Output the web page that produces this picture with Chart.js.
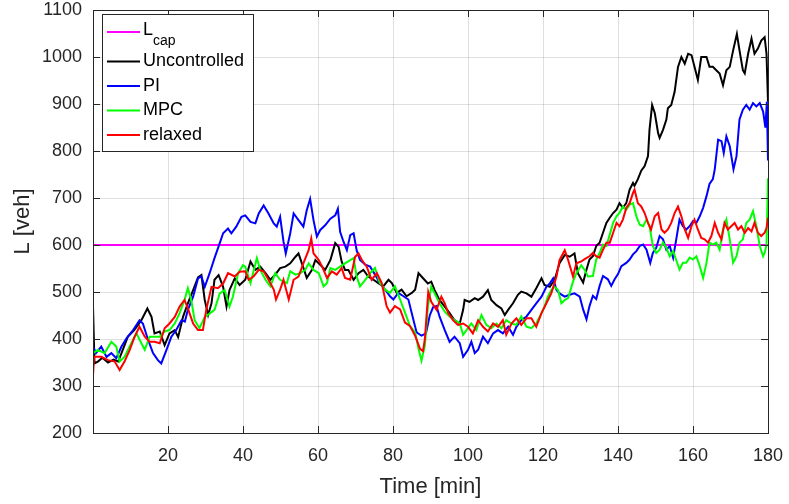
<!DOCTYPE html>
<html>
<head>
<meta charset="utf-8">
<script src="https://cdn.jsdelivr.net/npm/chart.js@4.4.1/dist/chart.umd.min.js"></script>
<style>
  body { margin: 0; background: #fff; }
  #wrap { width: 789px; height: 504px; }
</style>
</head>
<body>
<div id="wrap"><canvas id="chart"></canvas></div>
<script>
// queue length over time for the different ramp metering strategies
const seriesNames = ['L_cap', 'Uncontrolled', 'PI', 'MPC', 'relaxed'];
const seriesColors = ['#ff00ff', '#000000', '#0000ff', '#00ff00', '#ff0000'];

const timeCap = [0, 180];
const valCap = [600, 600];

const timeUnc = [
  0, 0.4, 1.3, 2.5, 4, 5.5, 6.7, 7.6, 9.3, 11,
  12.9, 14.5, 15.6, 16.4, 17.8, 19.1, 20.4, 21.8, 22.7, 24,
  25.3, 26.7, 28, 28.9, 29.8, 30.7, 31.6, 32.4, 33.5, 34.7,
  35.6, 36.4, 37.8, 39.1, 40.6, 42, 43.3, 44.6, 46, 47.3,
  48.6, 49.9, 51.3, 52.6, 54, 54.8, 55.7, 57, 58.4, 59.3,
  60.6, 61.9, 63.3, 64.6, 65.5, 66.3, 67.2, 68.1, 69.5, 70.8,
  72.1, 73.4, 74.8, 76.1, 77.4, 78.8, 79.7, 81, 82.3, 83.6,
  85, 85.9, 86.8, 87.6, 89.3, 90.2, 91.1, 92.4, 93.8, 95.1,
  96.4, 97.8, 98.7, 99.1, 100.4, 101.8, 102.7, 104, 105.3, 106.2,
  107.6, 108.9, 109.8, 110.7, 112, 113.3, 114.2, 115.6, 116.9, 118.2,
  119.6, 120.4, 121.8, 123.1, 124.4, 125.8, 127.1, 128.4, 129.3, 130.7,
  131.6, 132.4, 133.3, 134.2, 135.1, 136, 136.9, 137.8, 138.7, 139.6,
  140.4, 141.3, 142.2, 143.1, 144, 144.4, 145.3, 146.2, 147.1, 148,
  148.4, 149.1, 149.8, 150.7, 151.1, 152, 152.9, 153.3, 154.2, 155.1,
  156, 156.9, 157.8, 158.7, 159.6, 160.4, 161.3, 162.2, 163.6, 164.4,
  165.3, 166.2, 167.1, 168, 168.9, 169.8, 170.7, 171.7, 172.4, 173.3,
  173.8, 174.7, 175.6, 176.4, 177.3, 178.2, 179.1, 179.6, 180
];
const valUnc = [
  469, 348, 352, 360, 350, 356, 352, 370, 405, 419,
  440, 465, 447, 412, 416, 387, 412, 419, 404, 447,
  476, 504, 531, 536, 483, 451, 476, 526, 536, 511,
  469, 504, 529, 515, 526, 565, 547, 554, 540, 526,
  537, 551, 554, 561, 575, 582, 561, 530, 547, 568,
  558, 547, 568, 604, 596, 565, 547, 547, 526, 540,
  547, 533, 526, 519, 512, 526, 519, 498, 505, 491,
  498, 505, 540, 533, 518, 522, 504, 483, 469, 455,
  440, 433, 462, 483, 479, 487, 483, 490, 504, 483,
  472, 465, 451, 462, 476, 494, 501, 497, 490, 508,
  529, 515, 511, 526, 561, 579, 575, 582, 540, 520,
  548, 569, 576, 598, 605, 626, 647, 658, 668, 675,
  689, 679, 689, 718, 732, 726, 740, 758, 768, 789,
  845, 898, 881, 838, 828, 845, 867, 891, 898, 926,
  979, 1000, 986, 1007, 1004, 979, 951, 1000, 1000, 979,
  979, 972, 965, 940, 972, 979, 1014, 1049, 1014, 972,
  965, 1007, 1039, 1007, 1018, 1035, 1042, 1007, 905
];

const timePI = [
  0, 0.8, 2.2, 3.6, 4.9, 6.2, 7.6, 8.9, 10.7, 12.4,
  13.3, 14.7, 16, 17.3, 18.2, 19.6, 20.9, 22.2, 23.6, 24.5,
  25.3, 26.7, 28, 28.9, 29.8, 31.1, 32.4, 33.8, 34.7, 36,
  36.9, 38.2, 39.6, 40.6, 42, 43.3, 44.2, 45.5, 46.8, 48.2,
  49, 49.9, 50.8, 51.4, 52.6, 53.5, 54.8, 56.1, 57, 57.9,
  58.8, 59.7, 60.6, 61.9, 63.3, 64.6, 65.3, 65.9, 66.8, 67.7,
  68.6, 69.5, 70.3, 71.2, 72.6, 73.9, 75.2, 76.5, 77.9, 79.2,
  80.1, 81.4, 82.8, 84.1, 85.4, 86.3, 87.6, 88.8, 89.8, 90.7,
  91.6, 92.4, 93.8, 95.1, 96.4, 97.8, 98.7, 100, 100.9, 101.8,
  102.7, 104, 105.3, 106.7, 108, 109.3, 110.7, 112, 112.9, 114.2,
  115.6, 116.9, 118.2, 119.6, 120.9, 121.8, 122.7, 123.6, 124.4, 125.8,
  127.1, 128.4, 129.8, 130.7, 131.6, 132.4, 133.3, 134.2, 135.1, 136,
  137.3, 138.2, 139.1, 140, 140.9, 142.2, 143.1, 144, 144.9, 145.8,
  146.7, 147.6, 148.6, 149.3, 150.2, 151.1, 152, 152.9, 153.8, 154.7,
  155.6, 156.4, 157.3, 158.2, 159.1, 160, 160.9, 161.8, 162.7, 163.6,
  164.4, 165.3, 165.8, 166.7, 167.6, 168.2, 168.9, 169.8, 170.8, 171.6,
  172.4, 173.3, 174.2, 175.1, 176, 176.9, 177.8, 178.7, 179.3, 179.7,
  180
];
const valPI = [
  384, 370, 384, 362, 370, 359, 384, 401, 419, 440,
  433, 398, 370, 355, 348, 377, 405, 419, 440, 437,
  462, 490, 529, 533, 511, 540, 572, 604, 625, 635,
  625, 639, 660, 663, 649, 646, 667, 684, 667, 646,
  639, 660, 607, 582, 625, 667, 653, 639, 674, 698,
  653, 618, 632, 642, 656, 663, 677, 628, 607, 589,
  621, 625, 589, 568, 558, 554, 537, 519, 505, 491,
  484, 498, 491, 484, 442, 414, 407, 412, 450, 468,
  470, 448, 419, 394, 405, 391, 362, 377, 394, 370,
  377, 405, 391, 412, 419, 412, 426, 409, 426, 440,
  448, 462, 476, 490, 511, 518, 529, 504, 497, 490,
  494, 497, 490, 463, 442, 470, 492, 485, 513, 534,
  527, 513, 527, 538, 555, 562, 569, 580, 587, 598,
  601, 590, 562, 583, 594, 619, 612, 590, 598, 573,
  615, 654, 640, 633, 640, 651, 647, 661, 679, 704,
  730, 740, 761, 824, 821, 796, 831, 810, 761, 789,
  867, 888, 898, 888, 902, 895, 902, 884, 850, 905,
  780
];

const timeMPC = [
  0, 1.3, 3.1, 4.9, 6.2, 7.1, 8.4, 10.2, 11.6, 12.9,
  13.8, 15.1, 16.4, 17.8, 19.1, 20.4, 21.8, 23.1, 24.4, 25.3,
  26.2, 27.1, 28.4, 29.8, 31.1, 32.4, 33.8, 35.1, 36.4, 37.3,
  38.7, 40, 40.6, 42, 43.7, 44.6, 46, 47.3, 48.6, 49.9,
  51.7, 52.6, 54, 55.3, 56.6, 57.5, 58.8, 60.2, 61.5, 62.4,
  63.3, 64.6, 65.9, 67.2, 68.6, 69.5, 70.3, 71.2, 72.6, 73.9,
  75.2, 76.5, 77.9, 79.2, 80.5, 81.9, 83.2, 84.5, 85.9, 86.8,
  87.6, 88.5, 89.3, 90.2, 91.1, 92.4, 93.8, 95.1, 96.4, 97.8,
  98.7, 99.6, 100.9, 102.2, 103.6, 104.9, 106.2, 107.6, 108.9, 110.2,
  111.6, 112.9, 114.2, 115.6, 116.9, 118.2, 119.6, 120.4, 121.3, 122.2,
  123.1, 124, 124.9, 125.8, 126.7, 128, 128.9, 130.2, 131.1, 132,
  133.3, 134.2, 135.1, 136, 136.9, 137.8, 138.7, 139.6, 140.4, 141.3,
  142.2, 143.1, 144, 144.9, 145.8, 146.7, 147.6, 148.4, 149.3, 150.2,
  151.1, 152, 152.9, 153.8, 154.7, 155.6, 156.4, 157.3, 158.2, 159.1,
  160, 160.9, 161.8, 162.7, 163.6, 164.4, 165.3, 166.2, 167.1, 168,
  168.9, 169.8, 170.7, 171.6, 172.4, 173.3, 174.2, 175.1, 176, 176.9,
  177.8, 178.7, 179.1, 179.6, 180
];
const valMPC = [
  370, 377, 370, 394, 384, 352, 362, 391, 412, 391,
  377, 405, 405, 405, 416, 419, 433, 455, 483, 508,
  483, 440, 423, 447, 454, 462, 497, 504, 469, 490,
  540, 557, 554, 519, 572, 547, 526, 512, 540, 526,
  519, 544, 537, 540, 547, 561, 547, 540, 512, 519,
  551, 547, 554, 561, 568, 572, 533, 512, 526, 540,
  551, 519, 505, 498, 512, 484, 456, 428, 414, 379,
  354, 386, 469, 511, 497, 476, 458, 448, 440, 433,
  409, 419, 433, 419, 451, 430, 423, 433, 423, 440,
  433, 430, 448, 426, 423, 433, 455, 469, 490, 504,
  511, 504, 476, 483, 487, 522, 540, 557, 547, 533,
  534, 569, 583, 601, 598, 622, 647, 661, 668, 682,
  675, 686, 689, 661, 643, 640, 654, 640, 598, 583,
  590, 605, 594, 576, 587, 566, 548, 562, 562, 573,
  569, 576, 555, 530, 562, 605, 601, 605, 590, 633,
  654, 612, 562, 576, 605, 612, 647, 654, 672, 640,
  598, 576, 583, 600, 742
];

const timeRel = [
  0, 0.3, 2.2, 4, 5.8, 7.1, 8.4, 9.8, 11.1, 12.4,
  13.8, 15.1, 16.4, 17.8, 19.1, 20.4, 21.8, 23.1, 24.4, 25.3,
  26.7, 28, 29.3, 30.2, 31.6, 33.3, 34.7, 36, 37.8, 39.1,
  40.6, 41.5, 42.8, 44.2, 45.5, 46.8, 48.2, 48.8, 49.9, 50.8,
  52.2, 53.5, 54.8, 56.1, 57.5, 58.2, 58.8, 60.2, 61.1, 62.4,
  63.7, 65, 66.3, 67.2, 68.6, 69.9, 70.8, 71.7, 73, 74.3,
  75.7, 77, 78.3, 79.2, 80.5, 81.9, 83.2, 84.5, 85.9, 87.2,
  88, 88.5, 89.4, 90.2, 91.6, 92.9, 93.8, 94.7, 96, 97.3,
  98.7, 100, 101.3, 102.7, 104, 105.3, 106.7, 108, 109.3, 110.2,
  111.6, 112.9, 114.2, 115.6, 116.9, 118.2, 119.6, 120.9, 122.2, 123.6,
  124.4, 125.8, 126.7, 128, 128.9, 130.2, 131.1, 132.4, 133.3, 134.2,
  135.1, 136, 136.9, 137.8, 138.7, 139.6, 140.4, 141.3, 142.2, 143.1,
  144, 144.4, 145.3, 146.2, 147.1, 148, 148.8, 149.8, 150.7, 151.6,
  152.4, 153.3, 154.2, 155.1, 156, 156.9, 157.8, 158.7, 159.6, 160.4,
  161.3, 162.2, 163.1, 164, 164.9, 165.8, 166.7, 167.6, 168.4, 169.3,
  170.2, 171.1, 172, 172.9, 173.8, 174.7, 175.6, 176.4, 177.3, 178.2,
  179.1, 179.6, 180
];
const valRel = [
  323, 362, 362, 355, 352, 334, 352, 377, 405, 426,
  405, 394, 394, 391, 423, 433, 447, 469, 483, 465,
  433, 419, 419, 462, 511, 508, 518, 540, 533, 543,
  544, 526, 533, 547, 544, 526, 505, 484, 505, 526,
  484, 526, 533, 561, 589, 614, 582, 568, 554, 530,
  544, 537, 551, 530, 526, 575, 582, 568, 554, 526,
  540, 519, 470, 456, 470, 463, 435, 428, 407, 379,
  374, 400, 500, 479, 462, 490, 476, 455, 440, 430,
  433, 426, 412, 440, 426, 416, 433, 426, 440, 409,
  433, 444, 430, 444, 444, 426, 455, 476, 497, 533,
  568, 589, 568, 533, 561, 565, 570, 576, 583, 576,
  573, 590, 605, 605, 626, 647, 640, 654, 679, 689,
  711, 718, 689, 682, 668, 647, 633, 661, 668, 633,
  626, 633, 647, 668, 682, 661, 633, 615, 640, 654,
  633, 615, 612, 605, 619, 647, 626, 612, 647, 633,
  640, 647, 633, 640, 626, 636, 629, 647, 626, 619,
  626, 636, 658
];

const seriesTimes = [timeCap, timeUnc, timePI, timeMPC, timeRel];
const seriesValues = [valCap, valUnc, valPI, valMPC, valRel];

const FONT = "'Liberation Sans', Arial, Helvetica, sans-serif";
const AXIS_COLOR = '#262626';
const GRID_COLOR = 'rgba(38,38,38,0.15)';

function toPoints(times, values) {
  return times.map((t, i) => ({ x: t, y: values[i] }));
}

// box around the axes with inward ticks on all four sides (matlab look)
const axesBox = {
  id: 'axesBox',
  afterDatasetsDraw(chart) {
    const { ctx, chartArea: a, scales: { x, y } } = chart;
    const len = 7;
    ctx.save();
    ctx.strokeStyle = AXIS_COLOR;
    ctx.lineWidth = 1;
    ctx.beginPath();
    x.ticks.forEach(t => {
      const px = Math.round(x.getPixelForValue(t.value)) + 0.5;
      ctx.moveTo(px, a.bottom); ctx.lineTo(px, a.bottom - len);
      ctx.moveTo(px, a.top); ctx.lineTo(px, a.top + len);
    });
    y.ticks.forEach(t => {
      const py = Math.round(y.getPixelForValue(t.value)) + 0.5;
      ctx.moveTo(a.left, py); ctx.lineTo(a.left + len, py);
      ctx.moveTo(a.right, py); ctx.lineTo(a.right - len, py);
    });
    ctx.stroke();
    ctx.strokeRect(Math.round(a.left) + 0.5, Math.round(a.top) + 0.5,
      Math.round(a.right - a.left), Math.round(a.bottom - a.top));
    ctx.restore();
  }
};

// legend box in the upper left corner, label "L_cap" gets a subscript
const boxLegend = {
  id: 'boxLegend',
  afterDraw(chart) {
    const { ctx, chartArea: a } = chart;
    const left = a.left + 9, top = a.top + 4, w = 151, h = 137;
    const rows = [18, 47.5, 72, 96.5, 121];
    ctx.save();
    ctx.fillStyle = '#fff';
    ctx.fillRect(left, top, w, h);
    ctx.strokeStyle = AXIS_COLOR;
    ctx.lineWidth = 1;
    ctx.strokeRect(left + 0.5, top + 0.5, w, h);
    ctx.textBaseline = 'middle';
    ctx.textAlign = 'left';
    chart.data.datasets.forEach((ds, i) => {
      const yy = top + rows[i];
      ctx.strokeStyle = ds.borderColor;
      ctx.lineWidth = 2;
      ctx.beginPath();
      ctx.moveTo(left + 5, yy);
      ctx.lineTo(left + 38, yy);
      ctx.stroke();
      ctx.fillStyle = '#000';
      const [base, sub] = ds.label.split('_');
      ctx.font = '18px ' + FONT;
      if (sub) {
        ctx.fillText(base, left + 41, yy - 2);
        const bw = ctx.measureText(base).width;
        ctx.font = '14px ' + FONT;
        ctx.fillText(sub, left + 41 + bw, yy + 9);
      } else {
        ctx.fillText(base, left + 41, yy);
      }
    });
    ctx.restore();
  }
};

const datasets = seriesNames.map((name, i) => ({
  label: name,
  data: toPoints(seriesTimes[i], seriesValues[i]),
  borderColor: seriesColors[i],
  backgroundColor: seriesColors[i],
  borderWidth: 2,
  pointRadius: 0,
  tension: 0,
  // later series are drawn on top
  order: seriesNames.length - i
}));

Chart.defaults.font.family = FONT;
Chart.defaults.color = AXIS_COLOR;

new Chart(document.getElementById('chart'), {
  type: 'line',
  data: { datasets },
  options: {
    responsive: true,
    maintainAspectRatio: false,
    animation: false,
    layout: { padding: { top: 10, right: 21, left: 0, bottom: 0 } },
    plugins: {
      legend: { display: false },
      tooltip: { enabled: false }
    },
    scales: {
      x: {
        type: 'linear',
        min: 0,
        max: 180,
        afterFit: s => { s.height = 71; s.paddingLeft = 0; s.paddingRight = 0; },
        afterBuildTicks: s => { s.ticks = s.ticks.filter(t => t.value > 0); },
        ticks: {
          stepSize: 20, padding: 12, color: AXIS_COLOR, font: { size: 18 },
          callback: v => String(v)
        },
        grid: { color: GRID_COLOR, drawTicks: false },
        border: { display: false },
        title: {
          display: true,
          text: 'Time [min]',
          color: AXIS_COLOR,
          font: { size: 22 },
          padding: { top: 0, bottom: 4 }
        }
      },
      y: {
        type: 'linear',
        min: 200,
        max: 1100,
        afterFit: s => { s.width = 93; s.paddingTop = 0; s.paddingBottom = 0; },
        ticks: {
          stepSize: 100, padding: 11, color: AXIS_COLOR, font: { size: 18 },
          callback: v => String(v)
        },
        grid: { color: GRID_COLOR, drawTicks: false },
        border: { display: false },
        title: {
          display: true,
          text: 'L [veh]',
          color: AXIS_COLOR,
          font: { size: 22 },
          padding: { top: 10, bottom: 0 }
        }
      }
    }
  },
  plugins: [axesBox, boxLegend]
});
</script>
</body>
</html>
